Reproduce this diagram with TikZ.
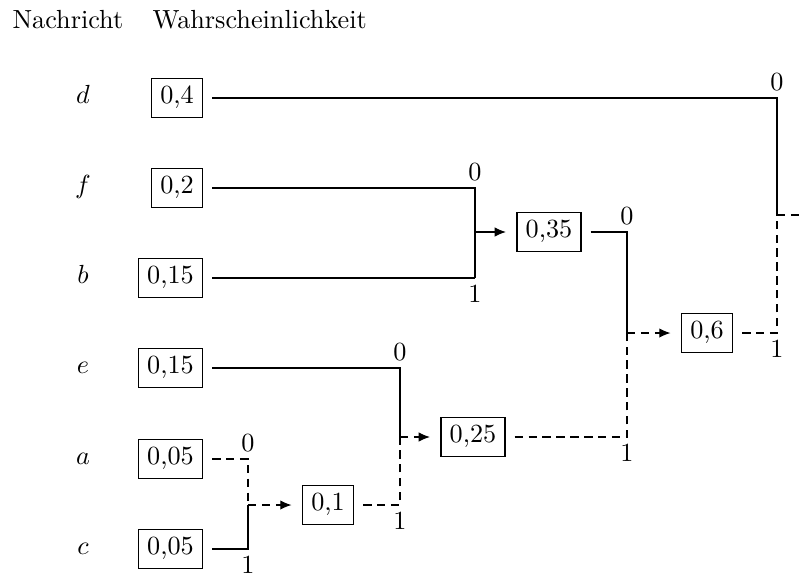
\documentclass[tikz,border=0pt]{standalone}
\usetikzlibrary{arrows.meta}
\begin{document}
\begin{tikzpicture}[x=0.3817pt,y=-0.3817pt,
  pbox/.style={draw,line width=0.4pt,inner xsep=3.33pt,inner ysep=3.33pt,text height=6.44pt,text depth=1.94pt},
  leaf/.style={pbox,anchor=east},
  sym/.style={inner sep=0pt,text height=6.44pt,text depth=1.94pt},
  conn/.style={line width=0.45pt},
  dsh/.style={conn,dash pattern=on 3.2pt off 2.1pt},
  tip/.style={-{Latex[length=4.3pt,width=3.6pt]},shorten >=4pt},
  lbl/.style={inner sep=2.4pt}
]
\useasboundingbox (0,0) rectangle (804,574);
% headings
\node[anchor=base west,inner sep=0pt] (h1) at (12,28) {Nachricht};
\node[anchor=base west,inner sep=0pt] (h2) at (152,28) {Wahrscheinlichkeit};
% symbols
\node[sym] (sd) at (83,98) {$d$};
\node[sym] (sf) at (83,188) {$f$};
\node[sym] (sb) at (83,278) {$b$};
\node[sym] (se) at (83,368) {$e$};
\node[sym] (sa) at (83,459) {$a$};
\node[sym] (sc) at (83,549) {$c$};
% leaf probabilities
\node[leaf] (pd) at (203,98) {0,4};
\node[leaf] (pf) at (203,188) {0,2};
\node[leaf] (pb) at (203,278) {0,15};
\node[leaf] (pe) at (203,368) {0,15};
\node[leaf] (pa) at (203,459) {0,05};
\node[leaf] (pc) at (203,549) {0,05};
% internal nodes
\node[pbox] (p01) at (328,505) {0,1};
\node[pbox] (p025) at (473,437) {0,25};
\node[pbox] (p035) at (549,232) {0,35};
\node[pbox] (p06) at (707,333) {0,6};
% junction coordinates
\coordinate (j1t) at (248,459); \coordinate (j1m) at (248,505); \coordinate (j1b) at (248,549);
\coordinate (j2t) at (400,368); \coordinate (j2m) at (400,437); \coordinate (j2b) at (400,505);
\coordinate (j3t) at (475,188); \coordinate (j3m) at (475,232); \coordinate (j3b) at (475,278);
\coordinate (j4t) at (627,232); \coordinate (j4m) at (627,333); \coordinate (j4b) at (627,437);
\coordinate (j5t) at (777,98);  \coordinate (j5m) at (777,215); \coordinate (j5b) at (777,333);
\coordinate (out) at (804,215);
% a, c
\draw[dsh,shorten <=3.5pt] (pa.east) -- (j1t) -- (j1m);
\draw[conn,shorten <=3.5pt] (pc.east) -- (j1b) -- (j1m);
\draw[dsh,tip] (j1m) -- (p01.west);
\node[lbl,above] (l1t) at (j1t) {0};
\node[lbl,below] (l1b) at (j1b) {1};
% e, 0,1
\draw[conn,shorten <=3.5pt] (pe.east) -- (j2t) -- (j2m);
\draw[dsh,shorten <=3.5pt] (p01.east) -- (j2b) -- (j2m);
\draw[dsh,tip] (j2m) -- (p025.west);
\node[lbl,above] (l2t) at (j2t) {0};
\node[lbl,below] (l2b) at (j2b) {1};
% f, b
\draw[conn,shorten <=3.5pt] (pf.east) -- (j3t) -- (j3b);
\draw[conn,shorten <=3.5pt] (pb.east) -- (j3b);
\draw[conn,tip] (j3m) -- (p035.west);
\node[lbl,above] (l3t) at (j3t) {0};
\node[lbl,below] (l3b) at (j3b) {1};
% 0,35, 0,25
\draw[conn,shorten <=3.5pt] (p035.east) -- (j4t) -- (j4m);
\draw[dsh,shorten <=3.5pt] (p025.east) -- (j4b) -- (j4m);
\draw[dsh,tip] (j4m) -- (p06.west);
\node[lbl,above] (l4t) at (j4t) {0};
\node[lbl,below] (l4b) at (j4b) {1};
% 0,4, 0,6
\draw[conn,shorten <=3.5pt] (pd.east) -- (j5t) -- (j5m);
\draw[dsh,shorten <=3.5pt] (p06.east) -- (j5b) -- (j5m);
\draw[dsh] (j5m) -- (out);
\node[lbl,above] (l5t) at (j5t) {0};
\node[lbl,below] (l5b) at (j5b) {1};
\end{tikzpicture}
\end{document}
